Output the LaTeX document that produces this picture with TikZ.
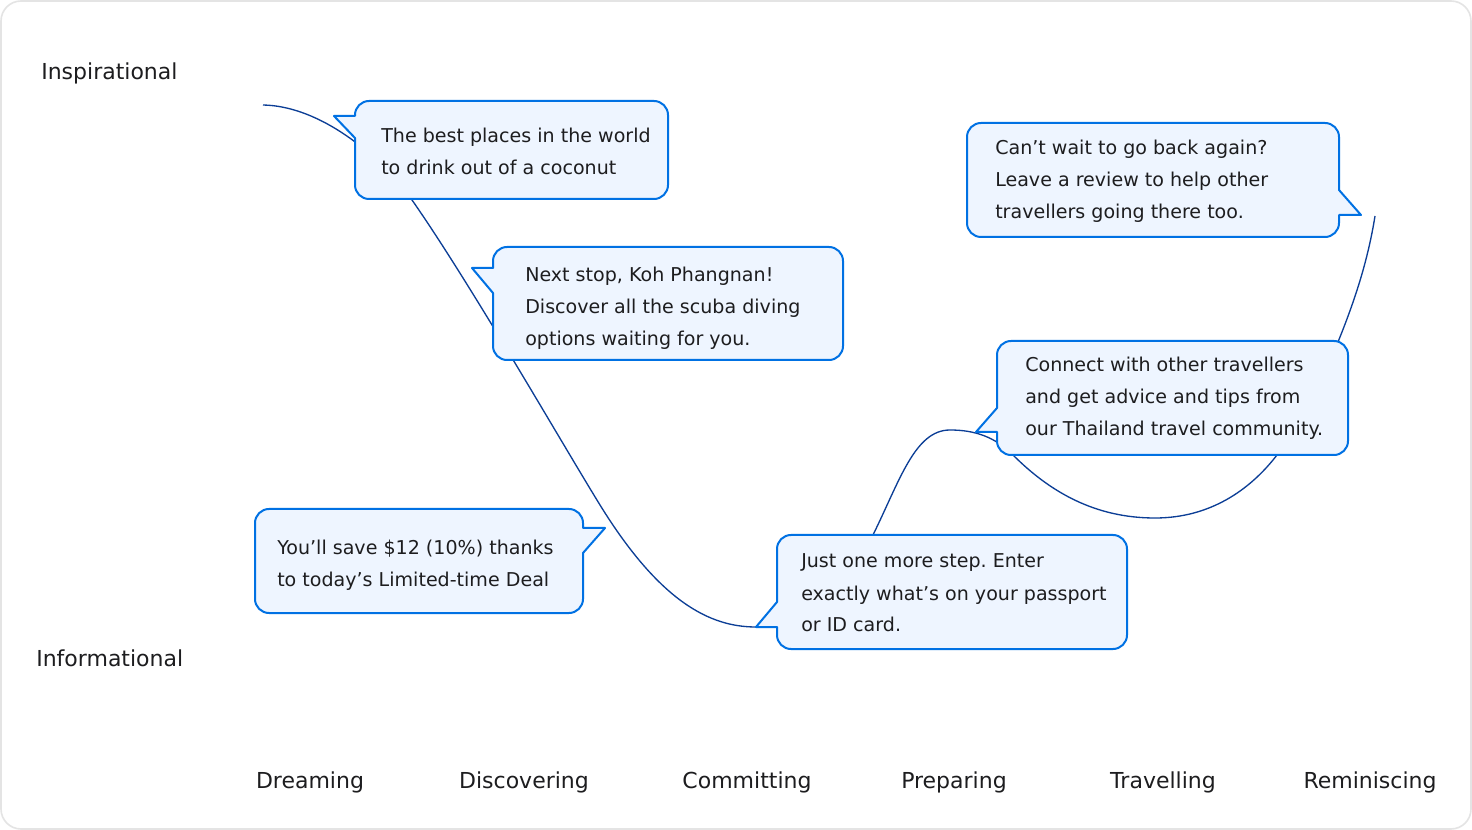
\documentclass[tikz,border=0pt]{standalone}
\usepackage{fontspec}
\setmainfont{DejaVu Sans}
\frenchspacing
\definecolor{cblue}{RGB}{0,113,227}
\definecolor{cfill}{RGB}{238,245,255}
\definecolor{ccurve}{RGB}{12,62,150}
\definecolor{ctextc}{RGB}{29,29,31}
\definecolor{cframe}{RGB}{228,228,228}
\tikzset{
  cbox/.style={draw=cblue, fill=cfill, line width=1.5pt, line join=round},
  curveline/.style={draw=ccurve, line width=1pt},
  ctxt/.style={inner sep=0pt, align=left, text=ctextc, font=\fontsize{14.3}{24}\selectfont\frenchspacing, anchor=base west},
  axlabel/.style={inner sep=0pt, text=ctextc, font=\fontsize{16.5}{20}\selectfont},
}
\begin{document}
\begin{tikzpicture}[x=0.75pt,y=-0.75pt]
\useasboundingbox (0,0) rectangle (1472,830);
\fill[white] (0,0) rectangle (1472,830);
\draw[cframe, line width=1.2pt, rounded corners=15pt] (1,1) rectangle (1471,829);

% curve
\coordinate (c0) at (263,105);
\coordinate (c1) at (412,200);
\coordinate (c2) at (600,505);
\coordinate (c3) at (756,627);
\coordinate (c4) at (873,535);
\coordinate (c5) at (950,430);
\coordinate (c6) at (1013,455);
\coordinate (c7) at (1155,518);
\coordinate (c8) at (1277,455);
\coordinate (c9) at (1338,342);
\coordinate (c10) at (1375,216);
\draw[curveline] (c0) .. controls (320,106) and (380,155) .. (c1)
  .. controls (470,283) and (560,440) .. (c2)
  .. controls (660,602) and (710,627) .. (c3)
  .. controls (820,627) and (850,580) .. (c4)
  .. controls (900,480) and (915,430) .. (c5)
  .. controls (975,430) and (995,437) .. (c6)
  .. controls (1050,492) and (1095,518) .. (c7)
  .. controls (1210,518) and (1250,490) .. (c8)
  .. controls (1300,425) and (1325,380) .. (c9)
  .. controls (1355,300) and (1368,260) .. (c10);

% callouts
\draw[cbox] (334,116) -- (355,116) [rounded corners=10.5pt] -- (355,101) -- (668,101) -- (668,199) -- (355,199) [sharp corners] -- (355,138) -- cycle;
\draw[cbox] (472,268) -- (493,268) [rounded corners=10.5pt] -- (493,247) -- (843,247) -- (843,360) -- (493,360) [sharp corners] -- (493,293) -- cycle;
\draw[cbox] (1361,215) -- (1339,215) [rounded corners=10.5pt] -- (1339,237) -- (967,237) -- (967,123) -- (1339,123) [sharp corners] -- (1339,190) -- cycle;
\draw[cbox] (976,432) -- (997,408) [rounded corners=10.5pt] -- (997,341) -- (1348,341) -- (1348,455) -- (997,455) [sharp corners] -- (997,432) -- cycle;
\draw[cbox] (605,528) -- (583,553) [rounded corners=10.5pt] -- (583,613) -- (255,613) -- (255,509) -- (583,509) [sharp corners] -- (583,528) -- cycle;
\draw[cbox] (756,627) -- (777,602) [rounded corners=10.5pt] -- (777,535) -- (1127,535) -- (1127,649) -- (777,649) [sharp corners] -- (777,627) -- cycle;

% texts (anchor = baseline of last line)
\node[ctxt] (t1) at (381,175) {The best places in the world\\to drink out of a coconut};
\node[ctxt] (t2) at (525,346) {Next stop, Koh Phangnan!\\Discover all the scuba diving\\options waiting for you.};
\node[ctxt] (t3) at (995,219) {Can’t wait to go back again?\\Leave a review to help other\\travellers going there too.};
\node[ctxt] (t4) at (1025,436) {Connect with other travellers\\and get advice and tips from\\our Thailand travel community.};
\node[ctxt] (t5) at (277,586) {You’ll save \$12 (10\%) thanks\\to today’s Limited-time Deal};
\node[ctxt] (t6) at (801,632) {Just one more step. Enter\\exactly what’s on your passport\\or ID card.};

% axis labels
\node[axlabel, anchor=base west] (insp) at (41,80) {Inspirational};
\node[axlabel, anchor=base west] (info) at (36,666) {Informational};
\node[axlabel, anchor=base] (s1) at (310,788) {Dreaming};
\node[axlabel, anchor=base] (s2) at (524,788) {Discovering};
\node[axlabel, anchor=base] (s3) at (747,788) {Committing};
\node[axlabel, anchor=base] (s4) at (954,788) {Preparing};
\node[axlabel, anchor=base] (s5) at (1163,788) {Travelling};
\node[axlabel, anchor=base] (s6) at (1370,788) {Reminiscing};
\end{tikzpicture}
\end{document}
